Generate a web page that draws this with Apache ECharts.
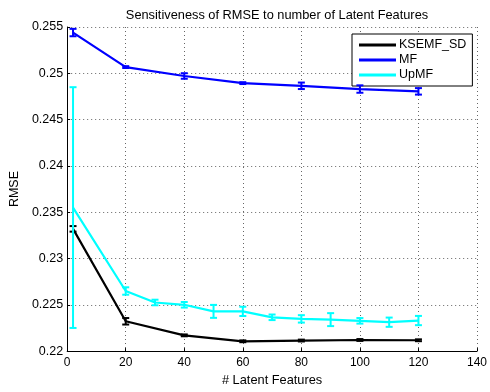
<!DOCTYPE html>
<html>
<head>
<meta charset="utf-8">
<script src="https://cdn.jsdelivr.net/npm/echarts@6/dist/echarts.min.js"></script>
<style>html,body{margin:0;padding:0;background:#fff;}#c{width:490px;height:392px;}</style>
</head>
<body>
<div id="c"></div>
<script>
var titleText = 'Sensitiveness of RMSE to number of Latent Features';
var xName = '# Latent Features';
var yName = 'RMSE';
var seriesNames = ['KSEMF_SD', 'MF', 'UpMF'];
var colors = ['#000000', '#0000ff', '#00ffff'];

var ksemfX = [2, 20, 40, 60, 80, 100, 120];
var ksemfY = [0.2332, 0.22322, 0.2217, 0.22106, 0.22114, 0.2212, 0.22117];
var ksemfErr = [0.0003, 0.00035, 0.0001, 0.0001, 0.0001, 0.0001, 0.0001];

var mfX = [2, 20, 40, 60, 80, 100, 120];
var mfY = [0.2544, 0.25067, 0.24971, 0.24894, 0.24865, 0.2483, 0.24805];
var mfErr = [0.0004, 0.0001, 0.0003, 0.0001, 0.00035, 0.0004, 0.00035];

var upmfX = [2, 20, 30, 40, 50, 60, 70, 80, 90, 100, 110, 120];
var upmfY = [0.2355, 0.22649, 0.22525, 0.225, 0.22429, 0.22429, 0.22365, 0.22348, 0.2234, 0.22327, 0.22312, 0.2233];
var upmfErr = [0.013, 0.0004, 0.0003, 0.0003, 0.0007, 0.0005, 0.0003, 0.0004, 0.0007, 0.0003, 0.0005, 0.0005];

var FONT = 'Liberation Sans, Arial, sans-serif';

function pts(xs, ys) { return xs.map(function (x, i) { return [x, ys[i]]; }); }
function errs(xs, ys, es) { return xs.map(function (x, i) { return [x, ys[i] - es[i], ys[i] + es[i]]; }); }

function errRender(color) {
  return function (params, api) {
    var x = api.value(0);
    var lo = api.coord([x, api.value(1)]);
    var hi = api.coord([x, api.value(2)]);
    var hw = 3.5;
    var st = { stroke: color, lineWidth: 2 };
    return {
      type: 'group',
      children: [
        { type: 'line', shape: { x1: lo[0], y1: lo[1], x2: hi[0], y2: hi[1] }, style: st },
        { type: 'line', shape: { x1: lo[0] - hw, y1: lo[1], x2: lo[0] + hw, y2: lo[1] }, style: st },
        { type: 'line', shape: { x1: hi[0] - hw, y1: hi[1], x2: hi[0] + hw, y2: hi[1] }, style: st }
      ]
    };
  };
}

var lineData = [pts(ksemfX, ksemfY), pts(mfX, mfY), pts(upmfX, upmfY)];
var errData = [errs(ksemfX, ksemfY, ksemfErr), errs(mfX, mfY, mfErr), errs(upmfX, upmfY, upmfErr)];

var series = [];
for (var i = 0; i < 3; i++) {
  series.push({
    name: seriesNames[i], type: 'line', data: lineData[i],
    showSymbol: false, symbol: 'none', animation: false,
    lineStyle: { color: colors[i], width: 2.2 }, itemStyle: { color: colors[i] },
    z: 2 + i * 2
  });
  series.push({
    name: seriesNames[i] + '_err', type: 'custom', data: errData[i],
    renderItem: errRender(colors[i]), animation: false, z: 3 + i * 2,
    encode: { x: 0, y: [1, 2] }
  });
}

var chart = echarts.init(document.getElementById('c'), null, { renderer: 'canvas' });
chart.setOption({
  animation: false,
  backgroundColor: '#fff',
  textStyle: { fontFamily: FONT },
  title: {
    text: titleText, left: 272, top: 4, textAlign: 'center',
    textStyle: { fontFamily: FONT, fontSize: 12.8, fontWeight: 'normal', color: '#000' }
  },
  grid: { left: 63, right: 9, top: 27, bottom: 36 },
  legend: {
    data: seriesNames.map(function (n) { return { name: n, icon: 'rect' }; }),
    orient: 'vertical', left: 352, top: 34,
    itemWidth: 37, itemHeight: 3, itemGap: 1,
    padding: [4, 6, 4, 7],
    backgroundColor: '#fff', borderColor: '#000', borderWidth: 1, borderRadius: 0,
    textStyle: { fontFamily: FONT, fontSize: 12.5, color: '#000', lineHeight: 14, padding: [0, 0, 0, -2] }
  },
  xAxis: {
    type: 'value', min: 0, max: 140, interval: 20,
    name: xName, nameLocation: 'middle', nameGap: 19,
    nameTextStyle: { fontFamily: FONT, fontSize: 12.8, color: '#000' },
    axisLine: { onZero: false, lineStyle: { color: '#000', width: 1 } },
    axisTick: { inside: true, length: 3, lineStyle: { color: '#000' } },
    axisLabel: { fontFamily: FONT, fontSize: 12, color: '#000', margin: 6 },
    splitLine: { show: true, lineStyle: { color: '#666', type: [1, 3], width: 1 } }
  },
  yAxis: {
    type: 'value', min: 0.22, max: 0.255, interval: 0.005,
    name: yName, nameLocation: 'middle', nameGap: 41, nameRotate: 90,
    nameTextStyle: { fontFamily: FONT, fontSize: 12.5, color: '#000' },
    axisLine: { onZero: false, lineStyle: { color: '#000', width: 1 } },
    axisTick: { inside: true, length: 3, lineStyle: { color: '#000' } },
    axisLabel: { fontFamily: FONT, fontSize: 12.5, color: '#000', margin: 4,
      formatter: function (v) { return String(+v.toFixed(3)); } },
    splitLine: { show: true, lineStyle: { color: '#666', type: [1, 3], width: 1 } }
  },
  series: series
});
</script>
</body>
</html>
